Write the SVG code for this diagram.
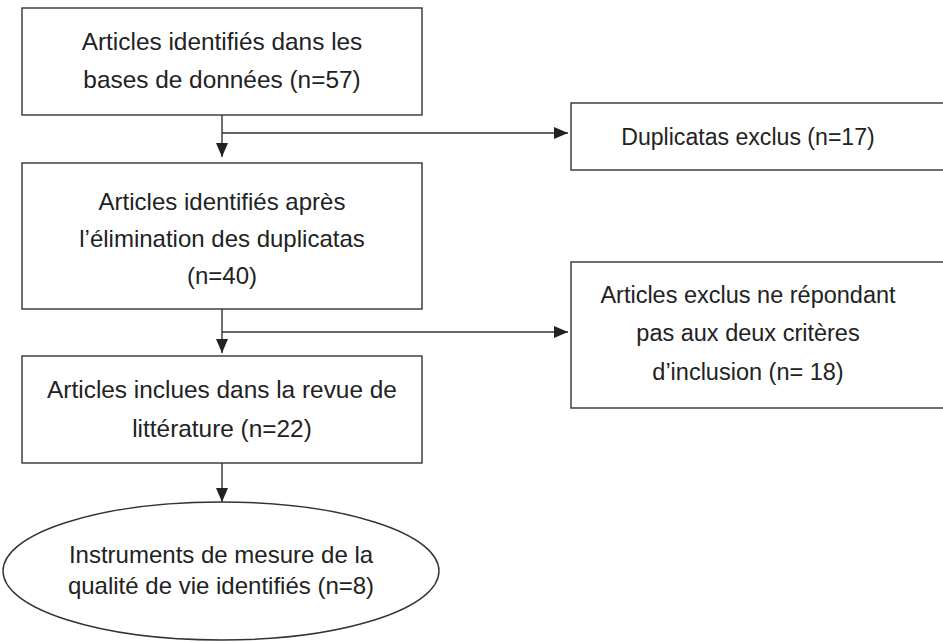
<svg xmlns="http://www.w3.org/2000/svg" width="943" height="642" viewBox="0 0 943 642">
<defs>
<marker id="ah" viewBox="0 0 14 12" refX="14" refY="6" markerWidth="14" markerHeight="12" markerUnits="userSpaceOnUse" orient="auto">
<path d="M0,0 L14,6 L0,12 Z" fill="#222"/>
</marker>
<style>
.box{fill:#fff;stroke:#333;stroke-width:1.4}
.t{font-family:"Liberation Sans",Arial,sans-serif;font-size:23.5px;fill:#222;text-anchor:middle}
.c{fill:none;stroke:#333;stroke-width:1.4}
</style>
</defs>
<rect width="943" height="642" fill="#fff"/>
<g id="n1">
<rect class="box" x="22" y="8" width="400" height="107"/>
<text class="t" x="222" y="50" style="font-size:24.4px">Articles identifiés dans les</text>
<text class="t" x="222" y="88" style="font-size:24.4px">bases de données (n=57)</text>
</g>
<g id="n2">
<rect class="box" x="22" y="163" width="400" height="146"/>
<text class="t" x="222" y="210" style="font-size:24px">Articles identifiés après</text>
<text class="t" x="222" y="247" style="font-size:24px">l’élimination des duplicatas</text>
<text class="t" x="222" y="284" style="font-size:24px">(n=40)</text>
</g>
<g id="n3">
<rect class="box" x="22" y="356" width="400" height="107"/>
<text class="t" x="222" y="398" style="font-size:24.4px">Articles inclues dans la revue de</text>
<text class="t" x="222" y="437" style="font-size:24.4px">littérature (n=22)</text>
</g>
<g id="n4">
<ellipse class="box" cx="221" cy="571" rx="218" ry="69"/>
<text class="t" x="221" y="563" style="font-size:24px">Instruments de mesure de la</text>
<text class="t" x="221" y="594" style="font-size:24px">qualité de vie identifiés (n=8)</text>
</g>
<g id="e1">
<rect class="box" x="571" y="103" width="380" height="67"/>
<text class="t" x="748" y="145" style="font-size:23.1px">Duplicatas exclus (n=17)</text>
</g>
<g id="e2">
<rect class="box" x="571" y="262" width="380" height="146"/>
<text class="t" x="748" y="303">Articles exclus ne répondant</text>
<text class="t" x="748" y="341">pas aux deux critères</text>
<text class="t" x="748" y="380">d’inclusion (n= 18)</text>
</g>
<g id="connectors">
<line class="c" x1="222" y1="115" x2="222" y2="157" marker-end="url(#ah)"/>
<line class="c" x1="222" y1="133" x2="568" y2="133" marker-end="url(#ah)"/>
<line class="c" x1="222" y1="309" x2="222" y2="353" marker-end="url(#ah)"/>
<line class="c" x1="222" y1="332" x2="568" y2="332" marker-end="url(#ah)"/>
<line class="c" x1="222" y1="463" x2="222" y2="502" marker-end="url(#ah)"/>
</g>
</svg>
